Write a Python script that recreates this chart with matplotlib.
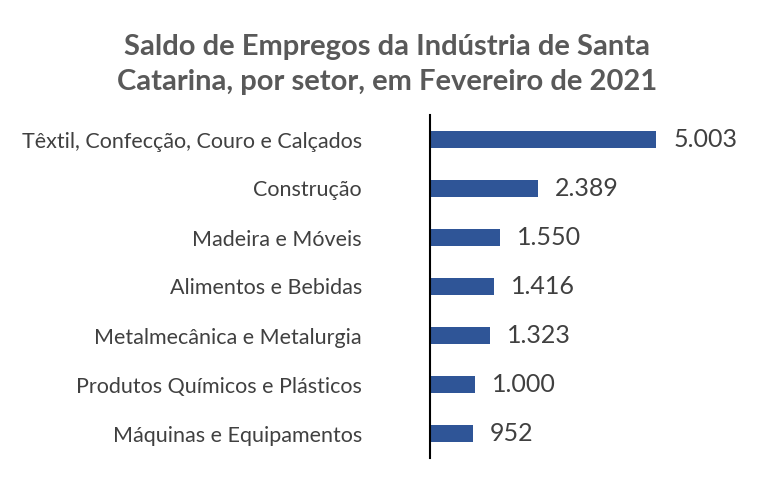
import matplotlib
matplotlib.use("Agg")
import matplotlib.pyplot as plt

# dados
setores = [
    "Têxtil, Confecção, Couro e Calçados",
    "Construção",
    "Madeira e Móveis",
    "Alimentos e Bebidas",
    "Metalmecânica e Metalurgia",
    "Produtos Químicos e Plásticos",
    "Máquinas e Equipamentos",
]
saldo = [5003, 2389, 1550, 1416, 1323, 1000, 952]
rotulos = ["5.003", "2.389", "1.550", "1.416", "1.323", "1.000", "952"]

plt.rcParams['font.family'] = ['Lato', 'DejaVu Sans']

W, H = 759, 480
fig = plt.figure(figsize=(W / 100, H / 100), dpi=100)
# eixo: linha vertical em x=430, de y~115 a ~458
ax = fig.add_axes([430 / W, 1 - 458 / H, (W - 430) / W, (458 - 115) / H])

pos = list(range(len(setores)))
ax.barh(pos, saldo, height=0.34, color="#2F5597")
ax.set_ylim(len(setores) - 0.5, -0.5)
ax.set_xlim(0, 7280)

for p, v, r in zip(pos, saldo, rotulos):
    ax.text(v + 380, p, r, va="center", ha="left", fontsize=18, color="#404040")

ax.set_yticks(pos)
ax.set_yticklabels(setores, fontsize=15.5, color="#404040")
ax.tick_params(axis="y", length=0, pad=49)
ax.set_xticks([])
for s in ["top", "right", "bottom"]:
    ax.spines[s].set_visible(False)
ax.spines["left"].set_color("#000000")
ax.spines["left"].set_linewidth(1.5)

fig.text(387 / W, 1 - 47 / H, "Saldo de Empregos da Indústria de Santa",
         ha="center", va="center", fontsize=21, fontweight="bold", color="#595959")
fig.text(387 / W, 1 - 82 / H, "Catarina, por setor, em Fevereiro de 2021",
         ha="center", va="center", fontsize=21, fontweight="bold", color="#595959")

fig.savefig("out.png", dpi=100)
